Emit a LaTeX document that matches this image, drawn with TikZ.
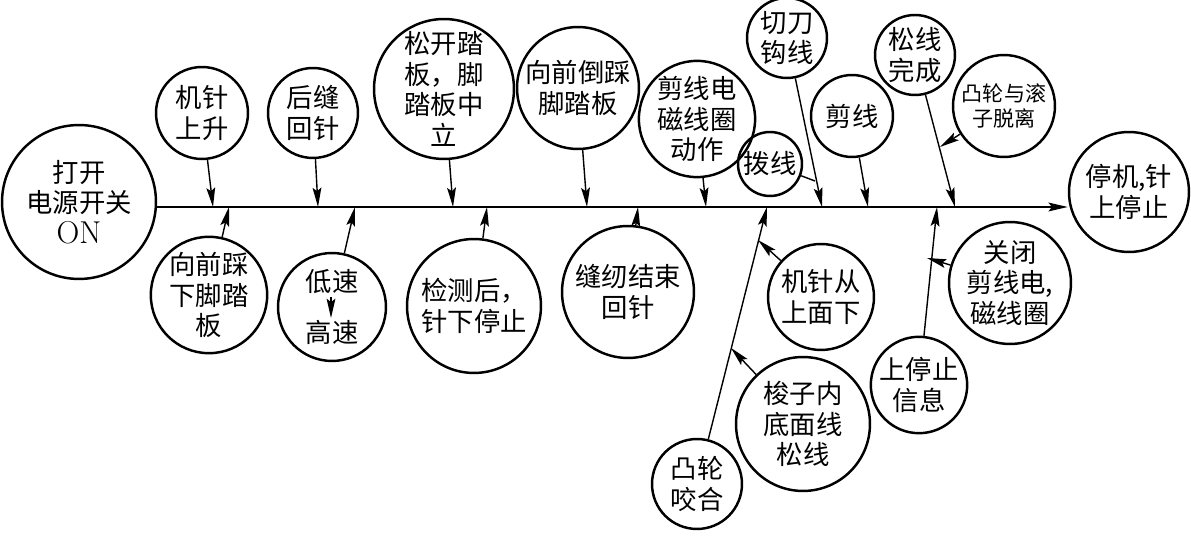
\documentclass[tikz,border=0pt]{standalone}
\usepackage{fontspec}
\newfontfamily\cjk{Noto Sans CJK SC}
\usetikzlibrary{arrows.meta}
\tikzset{
  bub/.style={circle, draw, line width=1.4pt, inner sep=0pt, align=center, minimum size=#1*0.04cm},
  >={Stealth[length=11pt,width=5pt,inset=2pt]},
  lead/.style={->, line width=0.8pt}
}

\begin{document}
\begin{tikzpicture}[x=0.02cm, y=-0.02cm, font=\cjk\fontsize{15}{17.5}\selectfont]
    \useasboundingbox (0,0) rectangle (1191,546);
    % start and end
    \node[bub=77] (on) at (79,202) {打开\\电源开关\\{\rmfamily\fontsize{18}{17.5}\selectfont ON}};
    \node[bub=60] (stop) at (1129,192) {停机,针\\上停止};
    % steps above the line
    \node[bub=46] (rise) at (202,113) {机针\\上升};
    \node[bub=45] (backsew) at (313,113) {后缝\\回针};
    \node[bub=66] (release) at (444,89) {松开踏\\板，脚\\踏板中\\立};
    \node[bub=61] (reverse) at (578,88) {向前倒踩\\脚踏板};
    \node[bub=54] (coil) at (697,119) {剪线电\\磁线圈\\动作};
    \node[bub=32] (wipe) at (770,164) {拨线};
    \node[bub=40] (knife) at (787,38) {切刀\\钩线};
    \node[bub=41] (cut) at (852,116) {剪线};
    \node[bub=40] (loose) at (915,55) {松线\\完成};
    \node[bub=51, font=\cjk\fontsize{12}{14}\selectfont] (part) at (1004,106) {凸轮与滚\\子脱离};
    % steps below the line
    \node[bub=57] (press) at (209,295) {向前踩\\下脚踏\\板};
    \node[bub=54] (speed) at (332,307) {低速\\[12pt]高速};
    \node[bub=67] (detect) at (474,306) {检测后，\\针下停止};
    \node[bub=66] (endsew) at (628,292) {缝纫结束\\回针};
    \node[bub=53] (needle) at (821,297) {机针从\\上面下};
    \node[bub=67] (shuttle) at (803,424) {梭子内\\底面线\\松线};
    \node[bub=45] (cam) at (697,484) {凸轮\\咬合};
    \node[bub=46] (upstop) at (919,385) {上停止\\信息};
    \node[bub=61] (off) at (1010,283) {关闭\\剪线电,\\磁线圈};
    % points on the time line
    \coordinate (t1) at (213,207);
    \coordinate (t2) at (318,207);
    \coordinate (t3) at (453,207);
    \coordinate (t4) at (587,207);
    \coordinate (t5) at (706,207);
    \coordinate (t6) at (822,207);
    \coordinate (t7) at (868,207);
    \coordinate (t8) at (955,207);
    \coordinate (b1) at (229,207);
    \coordinate (b2) at (355,207);
    \coordinate (b3) at (487,207);
    \coordinate (b4) at (638,207);
    \coordinate (b5) at (767,207);
    \coordinate (b6) at (937,207);
    % time line
    \draw[->, line width=1pt] (on.east |- t1) -- (stop.west |- t1);
    \foreach \n/\p in {rise/t1, backsew/t2, release/t3, reverse/t4, coil/t5,
        knife/t6, cut/t7, loose/t8, press/b1, speed/b2, detect/b3,
        endsew/b4, cam/b5, upstop/b6}
      \draw[lead] (\n) -- (\p);
    % side branches
    \coordinate (c1) at (731,348);
    \coordinate (c2) at (758,240);
    \coordinate (c3) at (815,181);
    \coordinate (c4) at (940,147);
    \coordinate (c5) at (927,258);
    \draw[lead] (shuttle) -- (c1);
    \draw[lead] (needle) -- (c2);
    \draw[line width=0.8pt] (wipe) -- (c3);
    \draw[lead] (part) -- (c4);
    \draw[lead] (off) -- (c5);
    % low to high speed
    \draw[->, line width=0.8pt] ([xshift=-0.02cm, yshift=0.2cm]speed.center) -- ([xshift=-0.02cm, yshift=-0.22cm]speed.center);
\end{tikzpicture}
\end{document}
